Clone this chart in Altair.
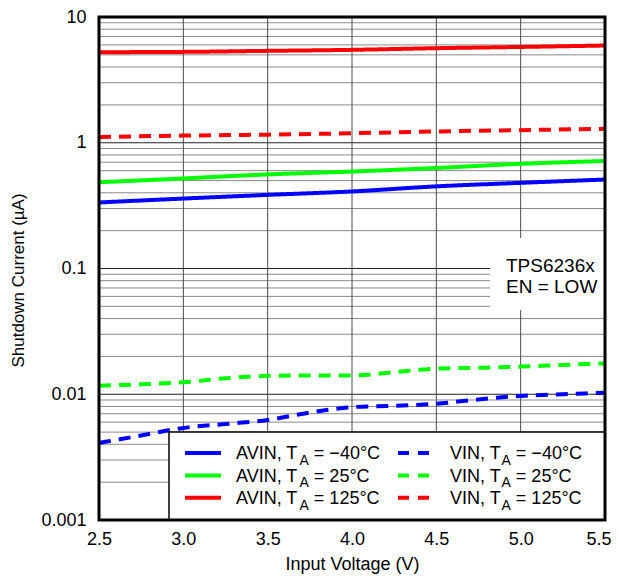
import altair as alt
import pandas as pd

FONT = "Liberation Sans"

# ---------------- data ----------------
avin_voltage = [2.5, 3.0, 3.5, 4.0, 4.5, 5.0, 5.5]
avin_m40 = [0.335, 0.36, 0.385, 0.41, 0.45, 0.48, 0.51]
avin_25 = [0.485, 0.52, 0.56, 0.59, 0.63, 0.68, 0.716]
avin_125 = [5.25, 5.28, 5.38, 5.48, 5.65, 5.78, 5.93]

vin_voltage = [2.5, 2.75, 3.0, 3.25, 3.5, 3.75, 4.0, 4.25, 4.5, 4.75, 5.0, 5.25, 5.5]
vin_m40 = [0.0041, 0.0047, 0.0054, 0.0058, 0.00625, 0.00715, 0.0079, 0.0081,
           0.0084, 0.0091, 0.0097, 0.0100, 0.0103]
vin_25 = [0.0117, 0.0120, 0.01245, 0.0134, 0.0140, 0.0141, 0.0141, 0.0150,
          0.0160, 0.01625, 0.0166, 0.0171, 0.0176]
vin_125_v = [2.5, 3.0, 3.5, 4.0, 4.5, 5.0, 5.5]
vin_125 = [1.11, 1.14, 1.16, 1.19, 1.23, 1.26, 1.29]

temps = ["−40°C", "25°C", "125°C"]
temp_colors = ["#0000ff", "#00ff00", "#ff0000"]
kinds = ["AVIN", "VIN"]

x_ticks = [2.5, 3.0, 3.5, 4.0, 4.5, 5.0]
x_last_tick = [5.5]
y_decades = [0.001, 0.01, 0.1, 1, 10]

# ---------------- tables ----------------
rows = []
def add(kind, temp, xs, ys):
    for v, c in zip(xs, ys):
        rows.append({"kind": kind, "temp": temp, "series": kind + temp, "V": v, "I": c})

add("AVIN", temps[0], avin_voltage, avin_m40)
add("AVIN", temps[1], avin_voltage, avin_25)
add("AVIN", temps[2], avin_voltage, avin_125)
add("VIN", temps[0], vin_voltage, vin_m40)
add("VIN", temps[1], vin_voltage, vin_25)
add("VIN", temps[2], vin_125_v, vin_125)
df = pd.DataFrame(rows)

minor_vals = [k * d for d in [0.001, 0.01, 0.1, 1] for k in range(2, 10)]
major_vals = [0.01, 0.1, 1]
grid_minor = pd.DataFrame({"I": minor_vals})
grid_major = pd.DataFrame({"I": major_vals})
grid_x = pd.DataFrame({"V": [3.0, 3.5, 4.0, 4.5, 5.0]})

W, H = 506, 503
xscale = alt.Scale(domain=[2.5, 5.5], nice=False, zero=False)
yscale = alt.Scale(type="log", domain=[0.001, 10], nice=False)
color_scale = alt.Scale(domain=temps, range=temp_colors)
dash_scale = alt.Scale(domain=kinds, range=[[1, 0], [12, 8]])

x_common = dict(format=".1f", grid=False, ticks=False, tickSize=0, domain=False,
                labelOverlap=False, labelPadding=10, labelFontSize=18,
                labelFont=FONT, labelColor="black", orient="bottom")
x_axis = alt.Axis(values=x_ticks, title="Input Voltage (V)", labelFlush=False,
                  titleFont=FONT, titleFontSize=18,
                  titleFontWeight="normal", titleColor="black",
                  titleY=49, titleBaseline="alphabetic", **x_common)
x_axis_last = alt.Axis(values=x_last_tick, title=None, labelFlush=True,
                       labelFlushOffset=6, **x_common)
y_axis = alt.Axis(values=y_decades, format="~g", title="Shutdown Current (µA)",
                  grid=False, ticks=False, tickSize=0, domain=False,
                  labelFlush=False, labelOverlap=False,
                  labelPadding=13, labelFontSize=18, labelFont=FONT,
                  labelColor="black", titleFont=FONT, titleFontSize=17,
                  titleFontWeight="normal", titleColor="black",
                  titleAngle=-90, titleX=-81, titleY=263,
                  titleAlign="center", titleBaseline="middle")

# ---------------- layers ----------------
minor = alt.Chart(grid_minor).mark_rule(color="#8a8a8a", strokeWidth=1).encode(
    y=alt.Y("I:Q", scale=yscale, axis=y_axis))
major = alt.Chart(grid_major).mark_rule(color="#222222", strokeWidth=1).encode(
    y=alt.Y("I:Q", scale=yscale, axis=y_axis))
vert = alt.Chart(grid_x).mark_rule(color="#4a4a4a", strokeWidth=1).encode(
    x=alt.X("V:Q", scale=xscale, axis=x_axis))

# white box behind the annotation
note_box = alt.Chart(pd.DataFrame({"a": [0]})).mark_rect(fill="white").encode(
    x=alt.value(391), x2=alt.value(506), y=alt.value(221), y2=alt.value(293))

lines = alt.Chart(df).mark_line(strokeWidth=4, interpolate="monotone").encode(
    x=alt.X("V:Q", scale=xscale, axis=x_axis_last),
    y=alt.Y("I:Q", scale=yscale, axis=y_axis),
    color=alt.Color("temp:N", scale=color_scale, legend=None),
    strokeDash=alt.StrokeDash("kind:N", scale=dash_scale, legend=None),
    detail="series:N",
    order="V:Q",
)

note = alt.Chart(pd.DataFrame({"t": ["TPS6236x", "EN = LOW"], "py": [254.5, 275.5]})).mark_text(
    align="left", baseline="alphabetic", font=FONT, fontSize=19, color="black").encode(
    x=alt.value(407), y=alt.Y("py:Q", scale=None), text="t:N")

# ---------------- manual legend (to allow the T_A subscript) ----------------
legend_box = alt.Chart(pd.DataFrame({"a": [0]})).mark_rect(
    fill="white", stroke="black", strokeWidth=1.5).encode(
    x=alt.value(70), x2=alt.value(506), y=alt.value(415), y2=alt.value(503))

ARIAL = {"A": 667, "V": 667, "I": 278, "N": 722, ",": 278, " ": 278, "T": 611}
def tw(s, size):
    return sum(ARIAL[c] for c in s) / 1000.0 * size

col_sym0 = [86, 299]
col_sym1 = [122, 330]
col_text = [137, 351]
row_base = [442.3, 464.7, 487.0]
leg_rows = []
for ci, kind in enumerate(kinds):
    for ri, temp in enumerate(temps):
        pre = kind + ", T"
        x0 = col_text[ci]
        xs = x0 + tw(pre, 18) + 0.5
        leg_rows.append({
            "kind": kind, "temp": temp,
            "pre": pre, "sub": "A", "post": "= " + temp,
            "sx0": col_sym0[ci], "sx1": col_sym1[ci], "sy": row_base[ri] - 6.3,
            "tx": x0, "subx": xs, "postx": xs + tw("A", 14) + tw(" ", 18),
            "ty": row_base[ri], "suby": row_base[ri] + 5.5,
        })
leg = pd.DataFrame(leg_rows)

leg_sym = alt.Chart(leg).mark_rule(strokeWidth=4).encode(
    x=alt.X("sx0:Q", scale=None), x2="sx1:Q", y=alt.Y("sy:Q", scale=None),
    color=alt.Color("temp:N", scale=color_scale, legend=None),
    strokeDash=alt.StrokeDash("kind:N", scale=alt.Scale(domain=kinds, range=[[1, 0], [11, 9]]), legend=None),
)
txt_kw = dict(align="left", baseline="alphabetic", font=FONT, color="black")
leg_pre = alt.Chart(leg).mark_text(fontSize=18, **txt_kw).encode(
    x=alt.X("tx:Q", scale=None), y=alt.Y("ty:Q", scale=None), text="pre:N")
leg_sub = alt.Chart(leg).mark_text(fontSize=14, **txt_kw).encode(
    x=alt.X("subx:Q", scale=None), y=alt.Y("suby:Q", scale=None), text="sub:N")
leg_post = alt.Chart(leg).mark_text(fontSize=18, **txt_kw).encode(
    x=alt.X("postx:Q", scale=None), y=alt.Y("ty:Q", scale=None), text="post:N")

frame = alt.Chart(pd.DataFrame({"a": [0]})).mark_rect(
    fill=None, stroke="black", strokeWidth=3).encode(
    x=alt.value(0), x2=alt.value(W), y=alt.value(0), y2=alt.value(H))

chart = alt.layer(
    minor, major, vert, note_box, lines, note, legend_box,
    leg_sym, leg_pre, leg_sub, leg_post, frame
).resolve_scale(
    color="shared", strokeDash="independent"
).resolve_axis(
    x="independent"
).properties(
    width=W, height=H,
    autosize=alt.AutoSizeParams(type="none"),
    padding={"left": 91, "top": 9, "right": 6, "bottom": 55},
).configure_view(stroke=None).configure(background="white")

chart.save("out.html", embed_options={"renderer": "svg", "actions": False})
